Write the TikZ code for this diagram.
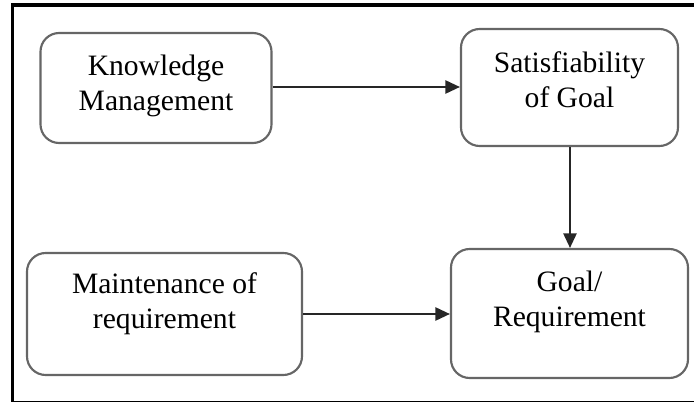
\documentclass[tikz,border=0pt]{standalone}
\usepackage{fontspec}
\setmainfont{Liberation Serif}
\usetikzlibrary{arrows.meta}
\begin{document}
\begin{tikzpicture}[x=0.75pt,y=-0.75pt,
  box/.style={draw=black!60,line width=1.6pt,rounded corners=14pt,fill=white,inner sep=0pt},
  lbl/.style={align=center,font=\fontsize{22.2}{26.5}\selectfont,inner sep=0pt},
  conn/.style={draw=black!85,line width=1.4pt,-{Triangle[length=11pt,width=10pt]}}]
\useasboundingbox (0,0) rectangle (694,403);
\clip (0,0) rectangle (694,403);
\draw[line width=2.4pt] (700,5) -- (12.5,5) -- (12.5,401.5);
\draw[line width=1.4pt] (12.5,401.5) -- (700,401.5);
\node[box,minimum width=231*0.75pt,minimum height=110*0.75pt] (km) at (156,88) {};
\node[lbl] (kmt) at (156,86) {Knowledge\\Management};
\node[box,minimum width=217*0.75pt,minimum height=117*0.75pt] (sg) at (569.5,87.5) {};
\node[lbl] (sgt) at (569.5,80) {Satisfiability\\of Goal};
\node[box,minimum width=275*0.75pt,minimum height=122*0.75pt] (mr) at (164.5,314) {};
\node[lbl] (mrt) at (164.5,304) {Maintenance of\\requirement};
\node[box,minimum width=237*0.75pt,minimum height=129*0.75pt] (gr) at (569.5,313.5) {};
\node[lbl] (grt) at (569.5,302) {Goal/\\Requirement};
\draw[conn] (km.east |- 0,87) -- (sg.west |- 0,87);
\draw[conn] (sg.south -| 570,0) -- (gr.north -| 570,0);
\draw[conn] (mr.east |- 0,314) -- (gr.west |- 0,314);
\end{tikzpicture}
\end{document}
